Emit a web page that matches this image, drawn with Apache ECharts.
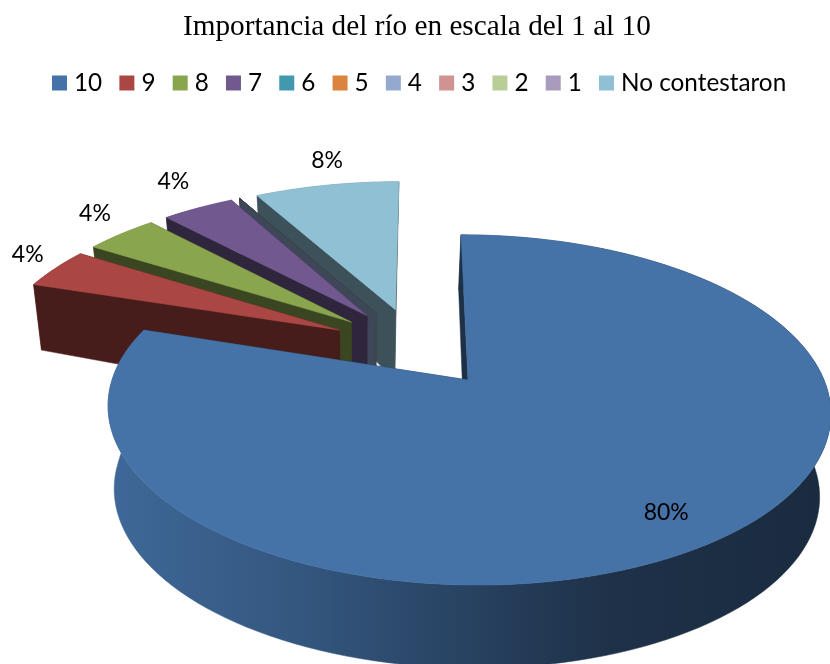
<!DOCTYPE html>
<html>
<head>
<meta charset="utf-8">
<style>html,body{margin:0;padding:0;background:#fff}#c{width:830px;height:664px}</style>
<script src="https://cdn.jsdelivr.net/npm/echarts@6/dist/echarts.min.js"></script>
</head>
<body>
<div id="c"></div>
<script>
const categories = ['10','9','8','7','6','5','4','3','2','1','No contestaron'];
const values = [80,4,4,4,0,0,0,0,0,0,8];
const colors = ['#4572A7','#AA4643','#89A54E','#71588F','#4198AF','#DB843D','#93A9CF','#D19392','#B9CD96','#A99BBD','#8FC0D3'];
const drawOrder = ['No contestaron','1','2','3','5','6','4','7','8','9','10'];
const labelReach = {'10':0.84,'9':1.18,'8':1.23,'7':1.29,'No contestaron':1.25};
const labelNudge = {'10':[-7,2],'9':[16,-4],'8':[18,-4],'7':[15,-1],'No contestaron':[14,0]};

// 3D pie camera
const CX=468, CY=380, RX=356, RY=170, K=0.171, SHEAR=-8.2, EXPLODE=0.25, SMALL_RIM=1.012;
const total = values.reduce((a,b)=>a+b,0);
const rad = d=>d*Math.PI/180;
const dir = d=>[Math.sin(rad(d)),Math.cos(rad(d))];

const spans = [];
let acc = 0;
values.forEach(v=>{const a0=acc/total*360; acc+=v; spans.push([a0,acc/total*360]);});
const firstMid = (spans[0][0]+spans[0][1])/2;
const origin = dir(firstMid).map(c=>-EXPLODE*c);

function proj(u,v,bottom){
  const w=1+K*v;
  let x=CX+RX*u/w+SHEAR*v/w, y=CY-RY*v/w;
  if(bottom){ y+=83-28*Math.max(0,v); x+=-0.024*(x-CX)-2.5; }
  return [x,y];
}
function shade(hex,f){
  const n=parseInt(hex.slice(1),16);
  const c=[n>>16,(n>>8)&255,n&255].map(q=>Math.round(q*f));
  return 'rgb('+c.join(',')+')';
}
function renderSlice(i,api){
  const value=api.value(0);
  const [a0,a1]=spans[i], mid=(a0+a1)/2, d=dir(mid);
  const ax=origin[0]+EXPLODE*d[0], ay=origin[1]+EXPLODE*d[1];
  const r=value/total>0.5?1:SMALL_RIM;
  const rim=(ang,bottom)=>{const t=dir(ang);return proj(ax+r*t[0],ay+r*t[1],bottom);};
  const apexT=proj(ax,ay,false), apexB=proj(ax,ay,true);
  const wall=shade(colors[i],0.42);
  const kids=[];
  const poly=(points,fill)=>kids.push({type:'polygon',shape:{points},style:{fill,stroke:fill,lineWidth:0.5}});
  if(value>0){
    poly([apexT,rim(a1,false),rim(a1,true),apexB],wall);
    const top=[],bot=[];
    const n=Math.max(2,Math.ceil((a1-a0)/2));
    for(let j=0;j<=n;j++){const a=a0+(a1-a0)*j/n;top.push(rim(a,false));bot.push(rim(a,true));}
    poly(top.concat(bot.slice().reverse()),new echarts.graphic.LinearGradient(100,0,830,0,[
      {offset:0,color:shade(colors[i],0.92)},
      {offset:0.27,color:shade(colors[i],0.76)},
      {offset:0.48,color:shade(colors[i],0.6)},
      {offset:0.7,color:shade(colors[i],0.43)},
      {offset:1,color:shade(colors[i],0.38)}
    ],true));
    poly([apexT,rim(a0,false),rim(a0,true),apexB],wall);
    poly([apexT].concat(top),colors[i]);
    const reach=labelReach[categories[i]], nudge=labelNudge[categories[i]];
    const lp=proj(ax+reach*d[0],ay+reach*d[1],false);
    kids.push({type:'text',z2:10,style:{text:value+'%',x:lp[0]+nudge[0],y:lp[1]+nudge[1],align:'center',verticalAlign:'middle',
      fill:'#000',fontSize:23,fontFamily:'Lato'}});
  } else {
    poly([apexT,rim(a0,false),rim(a0,true),apexB],wall);
  }
  return {type:'group',children:kids};
}
const series=categories.map((name,i)=>({
  name,type:'custom',coordinateSystem:'none',
  z:2+drawOrder.indexOf(name),
  silent:true,
  itemStyle:{color:colors[i]},
  data:[[values[i]]],
  renderItem:(p,api)=>renderSlice(i,api)
}));
const chart=echarts.init(document.getElementById('c'),null,{renderer:'canvas'});
chart.setOption({
  animation:false,
  backgroundColor:'#fff',
  title:{text:'Importancia del río en escala del 1 al 10',left:178,top:8,
    textStyle:{fontFamily:'Liberation Serif',fontSize:29.25,fontWeight:'normal',color:'#000'}},
  legend:{data:categories,left:47,top:66,icon:'rect',itemWidth:15,itemHeight:15,itemGap:17.2,
    selectedMode:false,textStyle:{fontFamily:'Lato',fontSize:24.3,color:'#000',padding:[0,0,0,2]}},
  series
});
</script>
</body>
</html>
